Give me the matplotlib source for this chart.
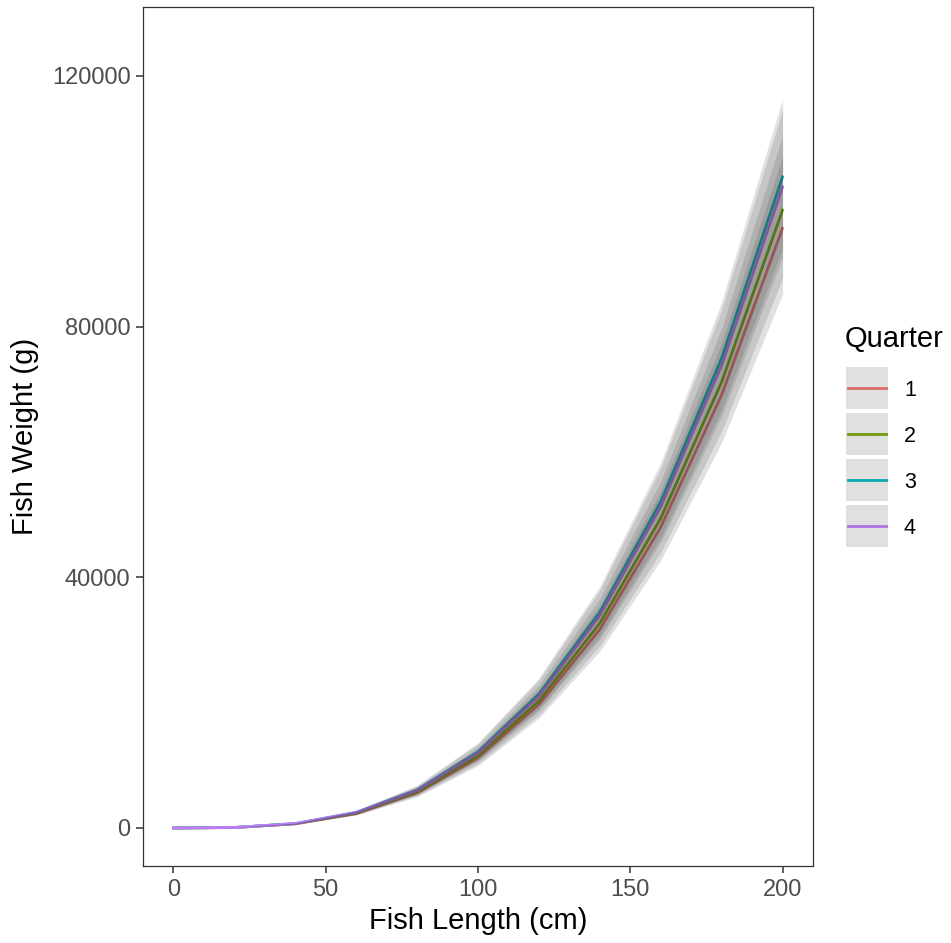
import matplotlib
matplotlib.use("Agg")
import matplotlib.pyplot as plt
from matplotlib.lines import Line2D
from matplotlib.patches import Rectangle

plt.rcParams['font.family'] = ['Liberation Sans', 'DejaVu Sans']

# Predicted weight-at-length by quarter, with interval bounds
length_cm = [0, 20, 40, 60, 80, 100, 120, 140, 160, 180, 200]
quarters = ["1", "2", "3", "4"]
colors = ["#F8766D", "#7CAE00", "#00BFC4", "#C77CFF"]

q1_weight = [0, 77, 660, 2300, 5610, 11200, 19700, 31700, 48000, 69100, 95700]
q1_lower = [0, 69, 587, 2047, 4993, 9968, 17533, 28213, 42720, 61499, 85173]
q1_upper = [0, 86, 739, 2576, 6283, 12544, 22064, 35504, 53760, 77392, 107184]

q2_weight = [0, 79, 676, 2370, 5780, 11540, 20280, 32680, 49420, 71160, 98600]
q2_lower = [0, 70, 602, 2109, 5144, 10271, 18049, 29085, 43984, 63332, 87754]
q2_upper = [0, 88, 757, 2654, 6474, 12925, 22714, 36602, 55350, 79699, 110432]

q3_weight = [0, 83, 713, 2500, 6090, 12160, 21370, 34430, 52070, 74980, 103900]
q3_lower = [0, 74, 635, 2225, 5420, 10822, 19019, 30643, 46342, 66732, 92471]
q3_upper = [0, 93, 799, 2800, 6821, 13619, 23934, 38562, 58318, 83978, 116368]

q4_weight = [0, 82, 702, 2460, 6000, 11970, 21040, 33900, 51270, 73830, 102300]
q4_lower = [0, 73, 625, 2189, 5340, 10653, 18726, 30171, 45630, 65709, 91047]
q4_upper = [0, 92, 786, 2755, 6720, 13406, 23565, 37968, 57422, 82690, 114576]

x_ticks = [0, 50, 100, 150, 200]
y_ticks = [0, 40000, 80000, 120000]

series = [
    (q1_weight, q1_lower, q1_upper),
    (q2_weight, q2_lower, q2_upper),
    (q3_weight, q3_lower, q3_upper),
    (q4_weight, q4_lower, q4_upper),
]

W, H = 951, 943
fig = plt.figure(figsize=(W / 100, H / 100), dpi=100)
ax = fig.add_axes([143 / W, 1 - 866 / H, (813 - 143) / W, (866 - 7) / H])

ribbon_fill = "#333333"
ribbon_alpha = 0.15
line_width = 2.0

for (w, lo, hi), col in zip(series, colors):
    ax.plot(length_cm, w, color=col, lw=line_width, zorder=2)
    ax.fill_between(length_cm, lo, hi, color=ribbon_fill, alpha=ribbon_alpha,
                    linewidth=0, zorder=3)

ax.set_xlim(-10, 210)
ax.set_ylim(-6064, 131010)
ax.set_xticks(x_ticks)
ax.set_yticks(y_ticks)
ax.set_xticklabels([str(v) for v in x_ticks])
ax.set_yticklabels([str(v) for v in y_ticks])

for s in ax.spines.values():
    s.set_color("#333333")
    s.set_linewidth(0.9)
ax.tick_params(axis="both", colors="#333333", length=5, width=1.1,
               labelsize=17, labelcolor="#4D4D4D", pad=4)

ax.set_xlabel("Fish Length (cm)", fontsize=21, color="black", labelpad=5)
ax.set_ylabel("Fish Weight (g)", fontsize=21, color="black", labelpad=9)


# Legend, laid out in pixel units of the figure
def px(x, y):
    return x / W, 1 - y / H


fig.text(*px(845, 347), "Quarter", fontsize=21, color="black",
         ha="left", va="baseline")
key_left, key_size, key_step, key_top0 = 846, 42, 46, 367
for i, (q, col) in enumerate(zip(quarters, colors)):
    top = key_top0 + key_step * i
    x0, y0 = px(key_left, top + key_size)
    fig.add_artist(Rectangle((x0, y0), key_size / W, key_size / H,
                             transform=fig.transFigure, facecolor="white",
                             edgecolor="none", zorder=1))
    xa, yc = px(key_left + 2, top + key_size / 2)
    xb, _ = px(key_left + key_size - 2, top)
    fig.add_artist(Line2D([xa, xb], [yc, yc], transform=fig.transFigure,
                          color=col, lw=line_width, zorder=2))
    fig.add_artist(Rectangle((x0, y0), key_size / W, key_size / H,
                             transform=fig.transFigure, facecolor=ribbon_fill,
                             alpha=ribbon_alpha, edgecolor="none", zorder=3))
    fig.text(*px(904, top + key_size / 2), q, fontsize=15.5, color="black",
             ha="left", va="center_baseline")

fig.savefig("out.png", dpi=100)
